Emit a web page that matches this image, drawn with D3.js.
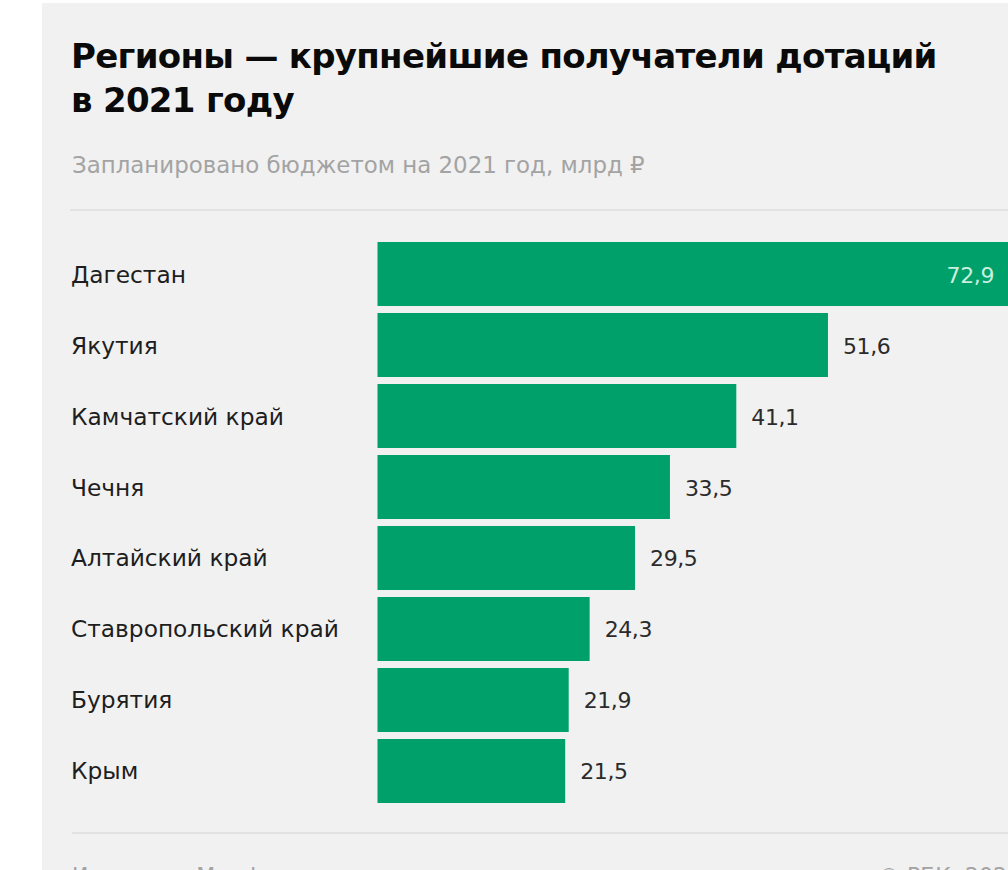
<!DOCTYPE html>
<html>
<head>
<meta charset="utf-8">
<script src="https://cdn.jsdelivr.net/npm/d3@7"></script>
<style>
  html, body { margin: 0; padding: 0; background: #fff; }
  svg { display: block; }
</style>
</head>
<body>
<div id="wrapper"></div>
<script>
const regions = ["Дагестан", "Якутия", "Камчатский край", "Чечня", "Алтайский край", "Ставропольский край", "Бурятия", "Крым"];
const subsidies = [72.9, 51.6, 41.1, 33.5, 29.5, 24.3, 21.9, 21.5];
const valueLabels = ["72,9", "51,6", "41,1", "33,5", "29,5", "24,3", "21,9", "21,5"];

const titleLines = ["Регионы — крупнейшие получатели дотаций", "в 2021 году"];
const subtitle = "Запланировано бюджетом на 2021 год, млрд ₽";
const source = "Источник: Минфин";
const credit = "© РБК, 2021";

function buildChart() {
    const dimension = {
        width: 1008,
        height: 870,
        margin: { left: 72 }
    };
    const font = "DejaVu Sans, Verdana, sans-serif";

    const svg = d3.select("#wrapper").append("svg")
        .attr("width", dimension.width)
        .attr("height", dimension.height);

    // grey card
    svg.append("rect")
        .attr("x", 42).attr("y", 3)
        .attr("width", dimension.width - 42)
        .attr("height", dimension.height - 3)
        .attr("fill", "#f1f1f1");

    const title = svg.append("g");
    title.selectAll("text")
        .data(titleLines)
        .enter()
        .append("text")
        .attr("x", dimension.margin.left - 1)
        .attr("y", (d, i) => 68 + i * 44)
        .attr("font-family", font)
        .attr("font-weight", "bold")
        .attr("font-size", 34)
        .attr("letter-spacing", -0.7)
        .attr("fill", "#0a0a0a")
        .text(d => d);

    svg.append("text")
        .attr("x", dimension.margin.left)
        .attr("y", 173)
        .attr("font-family", font)
        .attr("font-size", 22.9)
        .attr("fill", "#a3a3a3")
        .text(subtitle);

    // separators
    svg.append("line")
        .attr("x1", 70).attr("x2", dimension.width)
        .attr("y1", 210).attr("y2", 210)
        .attr("stroke", "#dcdcdc").attr("stroke-width", 1.5);

    svg.append("line")
        .attr("x1", 72).attr("x2", dimension.width)
        .attr("y1", 833).attr("y2", 833)
        .attr("stroke", "#dcdcdc").attr("stroke-width", 1.5);

    const xScaler = d3.scaleLinear()
        .domain([0, 80])
        .range([377.5, 377.5 + 80 * 8.73]);

    const yScaler = d3.scaleBand()
        .domain(regions)
        .range([235, 810])
        .padding(0.0986);

    const data = regions.map((r, i) => ({ region: r, value: subsidies[i], label: valueLabels[i] }));

    const bars = svg.append("g");

    bars.selectAll("rect")
        .data(data)
        .enter()
        .append("rect")
        .attr("x", xScaler(0))
        .attr("y", d => yScaler(d.region))
        .attr("width", d => xScaler(d.value) - xScaler(0))
        .attr("height", yScaler.bandwidth())
        .attr("fill", "#00a06b");

    // category labels
    svg.append("g").selectAll("text")
        .data(data)
        .enter()
        .append("text")
        .attr("x", dimension.margin.left - 1)
        .attr("y", d => yScaler(d.region) + yScaler.bandwidth() / 2 + 8.5)
        .attr("font-family", font)
        .attr("font-size", 23.3)
        .attr("fill", "#1e1e1e")
        .text(d => d.region);

    // value labels; the longest bar runs off the card so its label sits inside
    svg.append("g").selectAll("text")
        .data(data)
        .enter()
        .append("text")
        .attr("x", (d, i) => i === 0 ? 994 : xScaler(d.value) + 15)
        .attr("y", d => yScaler(d.region) + yScaler.bandwidth() / 2 + 8.5)
        .attr("text-anchor", (d, i) => i === 0 ? "end" : "start")
        .attr("font-family", font)
        .attr("font-size", 22)
        .attr("letter-spacing", -0.4)
        .attr("fill", (d, i) => i === 0 ? "#c9efdf" : "#2b2b2b")
        .text(d => d.label);

    svg.append("text")
        .attr("x", dimension.margin.left)
        .attr("y", 883)
        .attr("font-family", font)
        .attr("font-size", 22)
        .attr("fill", "#a3a3a3")
        .text(source);

    svg.append("text")
        .attr("x", 878)
        .attr("y", 883)
        .attr("font-family", font)
        .attr("font-size", 22)
        .attr("fill", "#a3a3a3")
        .text(credit);
}

buildChart();
</script>
</body>
</html>
